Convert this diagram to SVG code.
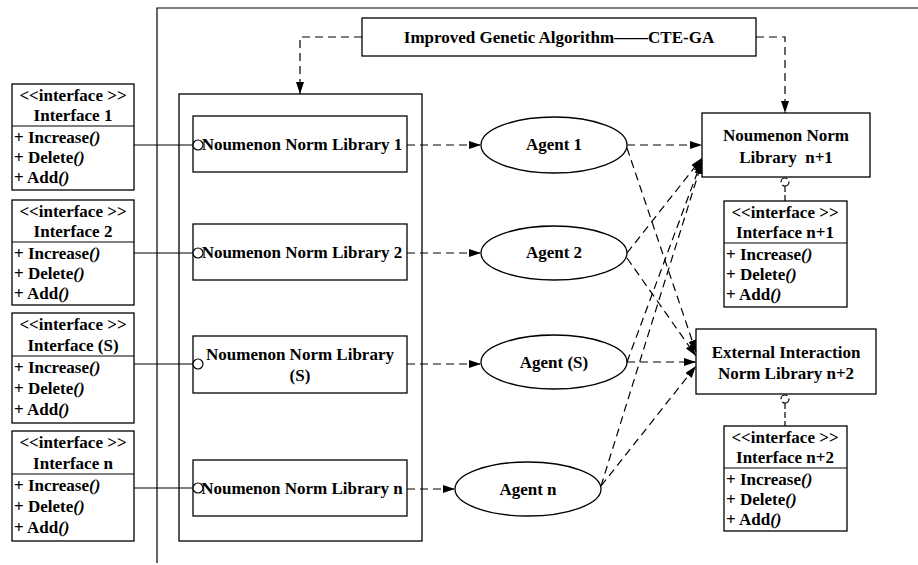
<svg xmlns="http://www.w3.org/2000/svg" width="918" height="565" viewBox="0 0 918 565">
<defs>
<marker id="arr" viewBox="0 0 12 8" refX="12" refY="4" markerWidth="12" markerHeight="8" markerUnits="userSpaceOnUse" orient="auto">
<path d="M0,0 L12,4 L0,8 Z" fill="#000"/>
</marker>
<style>
text{font-family:"Liberation Serif","Times New Roman",serif;font-weight:bold;font-size:17px;fill:#000}
.c{text-anchor:middle}
.box{fill:#fff;stroke:#000;stroke-width:1.3}
.ln{fill:none;stroke:#000;stroke-width:1.2}
.d{fill:none;stroke:#000;stroke-width:1.2;stroke-dasharray:8 5}
.i{font-style:italic}
</style>
</defs>
<rect width="918" height="565" fill="#fff"/>
<g id="frame">
<path class="ln" d="M157,563 V8 H918"/>
</g>
<g id="ga">
<rect class="box" x="362" y="18" width="394" height="38"/>
<text class="c" x="559" y="43">Improved Genetic Algorithm——CTE-GA</text>
</g>
<g id="container">
<rect class="box" x="179" y="94" width="243" height="447" fill="none"/>
</g>
<g id="lib1"><rect class="box" x="193" y="116" width="214" height="56"/><text class="c" x="302" y="150">Noumenon Norm Library 1</text></g>
<g id="lib2"><rect class="box" x="193" y="224" width="214" height="56"/><text class="c" x="302" y="258">Noumenon Norm Library 2</text></g>
<g id="libS"><rect class="box" x="193" y="336" width="214" height="57"/><text class="c" x="300" y="360">Noumenon Norm Library</text><text class="c" x="300" y="381">(S)</text></g>
<g id="libn"><rect class="box" x="193" y="460" width="214" height="56"/><text class="c" x="302" y="494">Noumenon Norm Library n</text></g>

<g id="if1"><rect class="box" x="12" y="84" width="122" height="106"/><line class="ln" x1="12" y1="126" x2="134" y2="126"/>
<text class="c" x="73" y="101">&lt;&lt;interface &gt;&gt;</text><text class="c" x="73" y="121">Interface 1</text>
<text x="14" y="143">+ Increase<tspan class="i">()</tspan></text><text x="14" y="163">+ Delete<tspan class="i">()</tspan></text><text x="14" y="183">+ Add<tspan class="i">()</tspan></text></g>
<g id="if2"><rect class="box" x="12" y="200" width="122" height="105"/><line class="ln" x1="12" y1="242" x2="134" y2="242"/>
<text class="c" x="73" y="217">&lt;&lt;interface &gt;&gt;</text><text class="c" x="73" y="237">Interface 2</text>
<text x="14" y="259">+ Increase<tspan class="i">()</tspan></text><text x="14" y="279">+ Delete<tspan class="i">()</tspan></text><text x="14" y="299">+ Add<tspan class="i">()</tspan></text></g>
<g id="ifS"><rect class="box" x="12" y="313" width="122" height="110"/><line class="ln" x1="12" y1="356" x2="134" y2="356"/>
<text class="c" x="73" y="330">&lt;&lt;interface &gt;&gt;</text><text class="c" x="73" y="351">Interface (S)</text>
<text x="14" y="373">+ Increase<tspan class="i">()</tspan></text><text x="14" y="394">+ Delete<tspan class="i">()</tspan></text><text x="14" y="415">+ Add<tspan class="i">()</tspan></text></g>
<g id="ifn"><rect class="box" x="12" y="431" width="122" height="110"/><line class="ln" x1="12" y1="474" x2="134" y2="474"/>
<text class="c" x="73" y="448">&lt;&lt;interface &gt;&gt;</text><text class="c" x="73" y="469">Interface n</text>
<text x="14" y="491">+ Increase<tspan class="i">()</tspan></text><text x="14" y="512">+ Delete<tspan class="i">()</tspan></text><text x="14" y="533">+ Add<tspan class="i">()</tspan></text></g>

<g id="agent1"><ellipse class="box" cx="554" cy="145" rx="73" ry="28"/><text class="c" x="554" y="150">Agent 1</text></g>
<g id="agent2"><ellipse class="box" cx="554" cy="253" rx="73" ry="27"/><text class="c" x="554" y="258">Agent 2</text></g>
<g id="agentS"><ellipse class="box" cx="554" cy="362" rx="73" ry="27"/><text class="c" x="554" y="368">Agent (S)</text></g>
<g id="agentn"><ellipse class="box" cx="528" cy="489" rx="73" ry="27"/><text class="c" x="528" y="495">Agent n</text></g>

<g id="libn1"><rect class="box" x="702" y="113" width="168" height="64"/><text class="c" x="786" y="141">Noumenon Norm</text><text class="c" x="786" y="163" xml:space="preserve">Library  n+1</text></g>
<g id="ifn1"><rect class="box" x="724" y="201" width="123" height="106"/><line class="ln" x1="724" y1="243" x2="847" y2="243"/>
<text class="c" x="785" y="218">&lt;&lt;interface &gt;&gt;</text><text class="c" x="785" y="238">Interface n+1</text>
<text x="726" y="260">+ Increase<tspan class="i">()</tspan></text><text x="726" y="280">+ Delete<tspan class="i">()</tspan></text><text x="726" y="300">+ Add<tspan class="i">()</tspan></text></g>
<g id="ext"><rect class="box" x="696" y="329" width="180" height="65"/><text class="c" x="786" y="358">External Interaction</text><text class="c" x="786" y="379">Norm Library n+2</text></g>
<g id="ifn2"><rect class="box" x="724" y="426" width="123" height="105"/><line class="ln" x1="724" y1="468" x2="847" y2="468"/>
<text class="c" x="785" y="443">&lt;&lt;interface &gt;&gt;</text><text class="c" x="785" y="463">Interface n+2</text>
<text x="726" y="485">+ Increase<tspan class="i">()</tspan></text><text x="726" y="505">+ Delete<tspan class="i">()</tspan></text><text x="726" y="525">+ Add<tspan class="i">()</tspan></text></g>

<g id="connectors">
<path class="ln" d="M134,145 H193"/><circle cx="198" cy="145" r="5" fill="#fff" stroke="#000" stroke-width="1.2"/>
<path class="ln" d="M134,253 H193"/><circle cx="198" cy="253" r="5" fill="#fff" stroke="#000" stroke-width="1.2"/>
<path class="ln" d="M134,364 H193"/><circle cx="198" cy="364" r="5" fill="#fff" stroke="#000" stroke-width="1.2"/>
<path class="ln" d="M134,488 H193"/><circle cx="198" cy="488" r="5" fill="#fff" stroke="#000" stroke-width="1.2"/>
<path class="d" d="M362,37 H300 V94" marker-end="url(#arr)"/>
<path class="d" d="M756,37 H785 V113" marker-end="url(#arr)"/>
<path class="d" d="M407,145 H481" marker-end="url(#arr)"/>
<path class="d" d="M407,253 H481" marker-end="url(#arr)"/>
<path class="d" d="M407,364 H481" marker-end="url(#arr)"/>
<path class="d" d="M407,489 H455" marker-end="url(#arr)"/>
<path class="d" d="M627,145 H702" marker-end="url(#arr)"/>
<path class="d" d="M627,148 L696,352" marker-end="url(#arr)"/>
<path class="d" d="M627,253 L702,158" marker-end="url(#arr)"/>
<path class="d" d="M627,258 L696,356" marker-end="url(#arr)"/>
<path class="d" d="M627,362 L696,362" marker-end="url(#arr)"/>
<path class="d" d="M627,362 L702,160" marker-end="url(#arr)"/>
<path class="d" d="M601,486 L702,162" marker-end="url(#arr)"/>
<path class="d" d="M601,486 L696,366" marker-end="url(#arr)"/>
<circle cx="785" cy="182" r="4" fill="#fff" stroke="#000" stroke-width="1.2" stroke-dasharray="9 3"/>
<path class="d" d="M785,186 V201" style="stroke-dasharray:6 3"/>
<circle cx="785" cy="399" r="4" fill="#fff" stroke="#000" stroke-width="1.2" stroke-dasharray="9 3"/>
<path class="d" d="M785,403 V426" style="stroke-dasharray:6 3"/>
</g>
</svg>
